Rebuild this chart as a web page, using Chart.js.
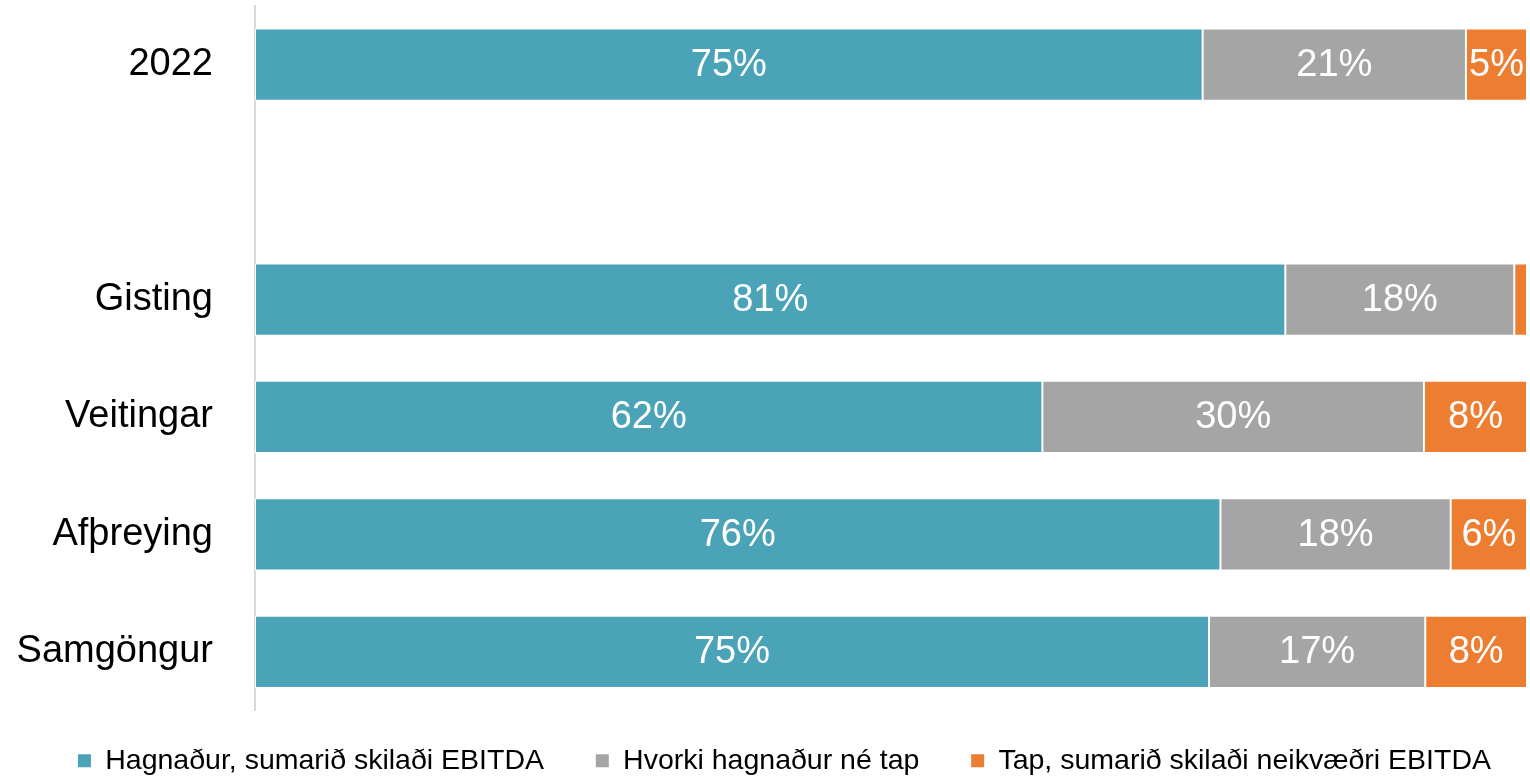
<!DOCTYPE html>
<html>
<head>
<meta charset="utf-8">
<script src="https://cdn.jsdelivr.net/npm/chart.js@4.4.1/dist/chart.umd.min.js"></script>
<style>
    html, body { margin: 0; padding: 0; background: #fff; }
    #wrap { width: 1530px; height: 777px; }
</style>
</head>
<body>
<div id="wrap"><canvas id="chart"></canvas></div>
<script>
const categories = ["2022", "", "Gisting", "Veitingar", "Afþreying", "Samgöngur"];
const seriesNames = ["Hagnaður, sumarið skilaði EBITDA", "Hvorki hagnaður né tap", "Tap, sumarið skilaði neikvæðri EBITDA"];
const hagnadur = [74.5, null, 81.0, 61.9, 75.9, 75.0];
const hvorki = [20.7, null, 18.0, 30.0, 18.1, 17.0];
const tap = [4.8, null, 1.0, 8.1, 6.0, 8.0];
const colors = ["#4BA3B8", "#A5A5A5", "#ED7D31"];

const fontFamily = "'Liberation Sans', Arial, sans-serif";

// white percentage labels in the middle of each segment
const barLabels = {
    id: "barLabels",
    afterDatasetsDraw(chart) {
        const ctx = chart.ctx;
        ctx.save();
        ctx.fillStyle = "#fff";
        ctx.font = "38px " + fontFamily;
        ctx.textAlign = "center";
        ctx.textBaseline = "middle";
        chart.data.datasets.forEach((ds, i) => {
            const meta = chart.getDatasetMeta(i);
            meta.data.forEach((bar, j) => {
                const v = ds.data[j];
                if (v == null || v < 2) return;
                const p = bar.getCenterPoint();
                ctx.fillText(Math.round(v) + "%", p.x, p.y + 1);
            });
        });
        ctx.restore();
    }
};

const ctx = document.getElementById("chart").getContext("2d");
new Chart(ctx, {
    type: "bar",
    data: {
        labels: categories,
        datasets: [hagnadur, hvorki, tap].map((d, i) => ({
            label: seriesNames[i],
            data: d,
            backgroundColor: colors[i],
            borderColor: "#fff",
            borderWidth: 1,
            borderSkipped: false,
            categoryPercentage: 1,
            barPercentage: 0.615
        }))
    },
    options: {
        indexAxis: "y",
        responsive: true,
        maintainAspectRatio: false,
        animation: false,
        layout: { padding: { top: 6, right: 3, left: 0, bottom: -8 } },
        scales: {
            x: {
                stacked: true,
                min: 0,
                max: 100,
                display: false
            },
            y: {
                stacked: true,
                grid: { display: false, drawTicks: true, tickLength: 42 },
                border: { display: true, color: "#D9D9D9", width: 2 },
                ticks: {
                    color: "#000",
                    font: { size: 38, family: fontFamily, lineHeight: 0.3 },
                    padding: 0
                },
                afterFit(scale) { scale.width = 255; }
            }
        },
        plugins: {
            legend: {
                position: "bottom",
                align: "end",
                labels: {
                    boxWidth: 13,
                    boxHeight: 13,
                    color: "#000",
                    padding: 36,
                    font: { size: 28.5, family: fontFamily },
                    generateLabels(chart) {
                        const items = Chart.defaults.plugins.legend.labels.generateLabels(chart);
                        // a little extra room after the first two entries
                        items.forEach((it, i) => {
                            it.strokeStyle = "transparent";
                            it.lineWidth = 0;
                            if (i < items.length - 1) it.text = it.text + "  ";
                        });
                        return items;
                    }
                }
            },
            tooltip: { enabled: false }
        }
    },
    plugins: [barLabels]
});
</script>
</body>
</html>
